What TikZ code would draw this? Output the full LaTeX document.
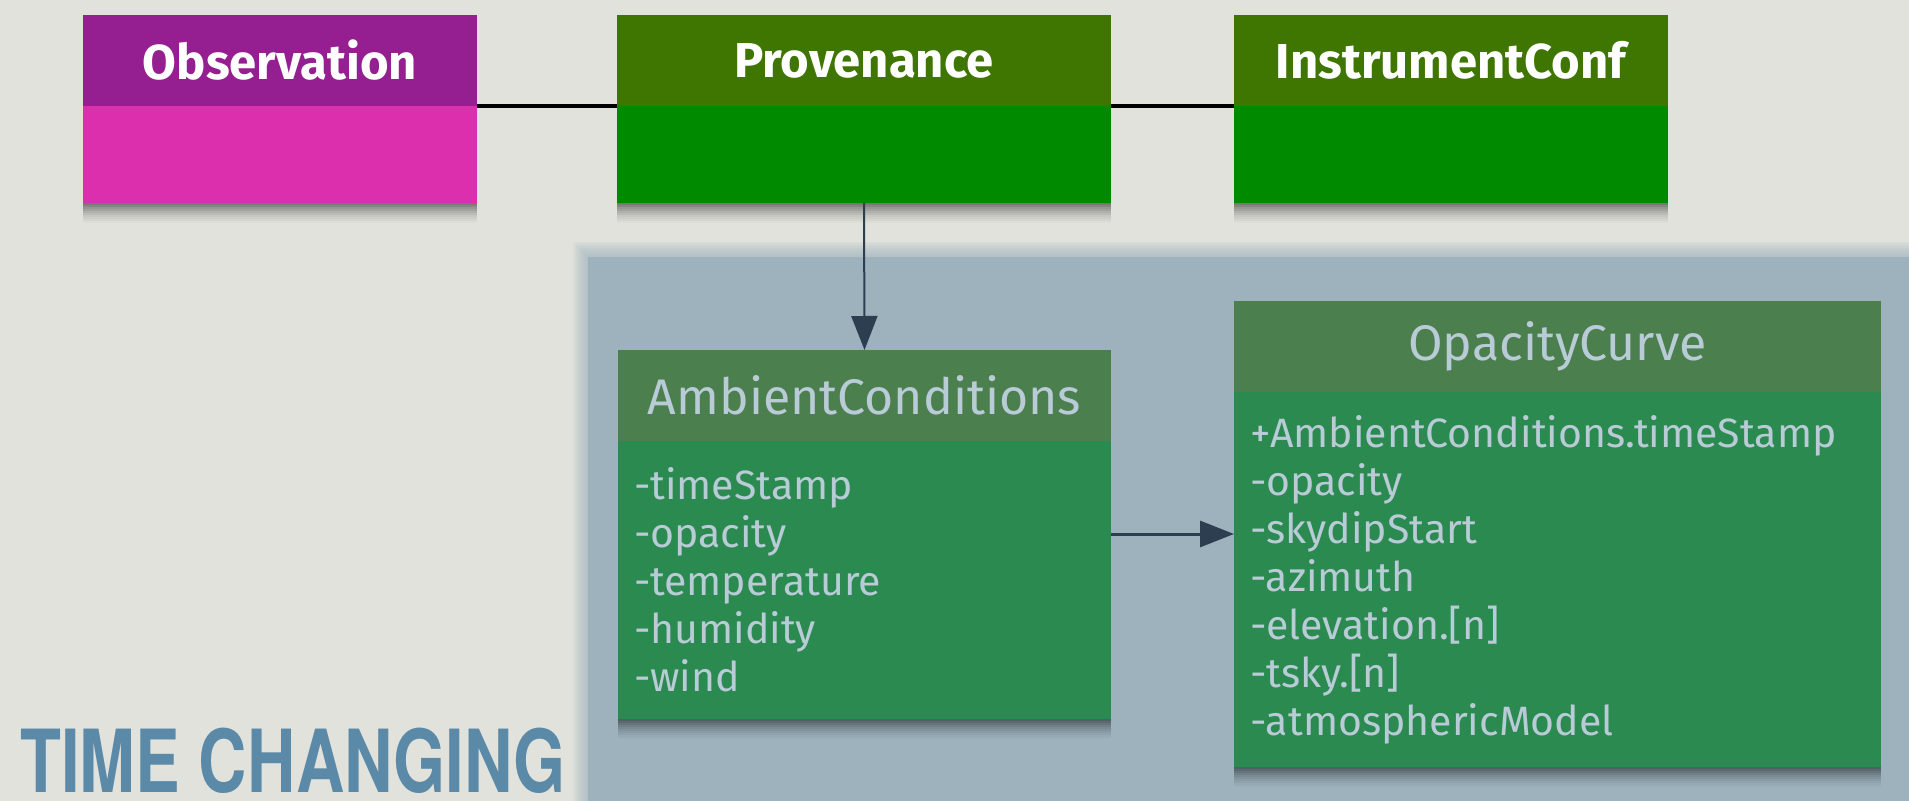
\documentclass[tikz,border=0pt]{standalone}
\usepackage{fontspec}
\setmainfont{Fira Sans}
\newfontfamily\titlefont[FakeStretch=0.77]{TeX Gyre Heros}
\usetikzlibrary{shadows,arrows.meta}
\definecolor{bg}{HTML}{E2E2DC}
\definecolor{panel}{HTML}{9DB2BD}
\definecolor{obshead}{HTML}{951F91}
\definecolor{obsbody}{HTML}{DC2FAD}
\definecolor{provhead}{HTML}{3F7501}
\definecolor{provbody}{HTML}{008A00}
\definecolor{ambhead}{HTML}{4C7F4E}
\definecolor{ambbody}{HTML}{2B8A4F}
\definecolor{paletext}{HTML}{B8CBD6}
\definecolor{connector}{HTML}{2C3E50}
\definecolor{titleblue}{HTML}{5B89A8}
\tikzset{
  box/.style={anchor=north west, inner sep=0pt, outer sep=0pt, draw=none},
  shad/.style={
    drop shadow={shadow xshift=0pt, shadow yshift=-1pt, opacity=0.10, fill=black},
    drop shadow={shadow xshift=0pt, shadow yshift=-2pt, opacity=0.09, fill=black},
    drop shadow={shadow xshift=0pt, shadow yshift=-3pt, opacity=0.08, fill=black},
    drop shadow={shadow xshift=0pt, shadow yshift=-4pt, opacity=0.07, fill=black},
    drop shadow={shadow xshift=0pt, shadow yshift=-5pt, opacity=0.06, fill=black},
    drop shadow={shadow xshift=0pt, shadow yshift=-6pt, opacity=0.05, fill=black},
    drop shadow={shadow xshift=0pt, shadow yshift=-7pt, opacity=0.04, fill=black},
    drop shadow={shadow xshift=0pt, shadow yshift=-8pt, opacity=0.03, fill=black},
    drop shadow={shadow xshift=0pt, shadow yshift=-9pt, opacity=0.03, fill=black},
    drop shadow={shadow xshift=0pt, shadow yshift=-10pt, opacity=0.02, fill=black}},
  tophead/.style={box, text=white, font=\fontsize{24.5}{28}\selectfont\bfseries},
  lowhead/.style={box, fill=ambhead, text=paletext, font=\fontsize{25}{28}\selectfont},
  lowbody/.style={box, shad, fill=ambbody, text=paletext, align=left, inner xsep=8pt,
    font=\fontsize{20.5}{24}\selectfont},
  assoc/.style={line width=2pt, black},
  arrowline/.style={connector, -{Triangle[length=17pt, width=13pt]}},
}
\begin{document}
\begin{tikzpicture}[x=0.5pt, y=-0.5pt]
\useasboundingbox (0,0) rectangle (1909,801);
\fill[bg] (0,0) rectangle (1909,801);
% panel with soft edge
\foreach \i in {10,...,1}{
  \fill[panel, opacity=0.09] ({588-\i*1.5},{257-\i*1.5}) rectangle (1909,801);
}
\fill[panel] (588,257) rectangle (1909,801);

% top classes
\node[box, shad, fill=obsbody, minimum width=197pt, minimum height=48.5pt] (obsB) at (83,106) {};
\node[tophead, fill=obshead, minimum width=197pt, minimum height=45.5pt] (obsH) at (83,15) {Observation};
\node[box, shad, fill=provbody, minimum width=247pt, minimum height=48.5pt] (provB) at (617,106) {};
\node[tophead, fill=provhead, minimum width=247pt, minimum height=45.5pt] (provH) at (617,15) {Provenance};
\node[box, shad, fill=provbody, minimum width=217pt, minimum height=48.5pt] (instB) at (1234,106) {};
\node[tophead, fill=provhead, minimum width=217pt, minimum height=45.5pt] (instH) at (1234,15) {InstrumentConf};

% lower classes
\node[lowbody, text width=230.5pt, minimum height=139pt] (ambB) at (618,441)
  {-timeStamp\\-opacity\\-temperature\\-humidity\\-wind};
\node[lowhead, minimum width=246.5pt, minimum height=45.5pt] (ambH) at (618,350) {AmbientConditions};
\node[lowbody, text width=307.5pt, minimum height=187.5pt] (opcB) at (1234,392)
  {+AmbientConditions.timeStamp\\-opacity\\-skydipStart\\-azimuth\\-elevation.[n]\\-tsky.[n]\\-atmosphericModel};
\node[lowhead, minimum width=323.5pt, minimum height=45.5pt] (opcH) at (1234,301) {OpacityCurve};

% connectors
\draw[assoc] (obsH.south east) -- (provH.south west);
\draw[assoc] (provH.south east) -- (instH.south west);
\draw[arrowline, line width=1pt] (provB.south) -- (ambH.north);
\coordinate (arrY) at (1170,534);
\draw[arrowline, line width=1.5pt] (arrY -| ambB.east) -- (arrY -| opcB.west);

% title
\node[anchor=south west, inner sep=0pt, text=titleblue, font=\titlefont\bfseries\fontsize{43.5}{44}\selectfont] (title) at (20,794)
  {TIME CHANGING};
\end{tikzpicture}
\end{document}
